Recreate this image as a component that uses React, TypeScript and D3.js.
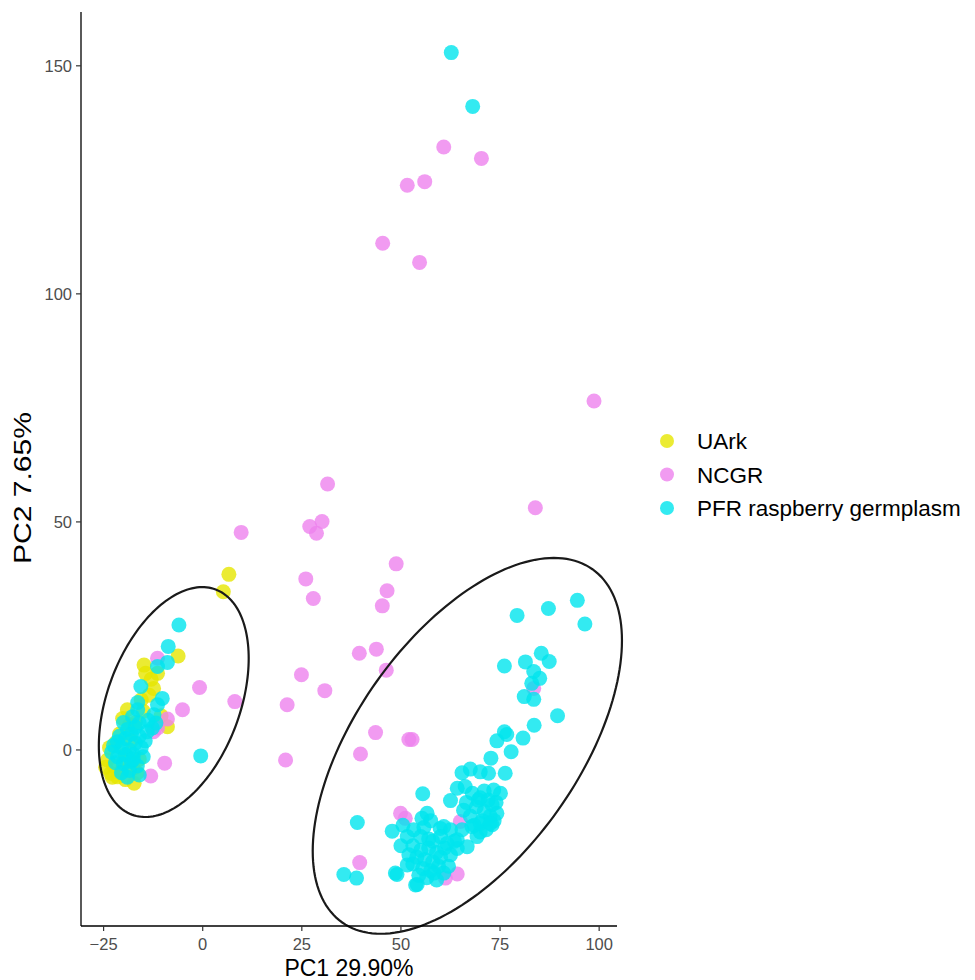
import React from "react";
import * as d3 from "d3";

// groups / legend
const groups = ["UArk", "NCGR", "PFR raspberry germplasm"];
const groupColors = ["#e6e600", "#ee82ee", "#00e5ee"];

const xTicks = [-25, 0, 25, 50, 75, 100];
const yTicks = [0, 50, 100, 150];

// PC1, PC2 scores
const uark = [
  [6.6, 38.5], [5.2, 34.7], [-6.2, 20.6], [-14.8, 18.6], [-14.4, 16.8], [-11.4, 16.8],
  [-12.4, 13.5], [-13.0, 15.5], [-19.0, 8.8], [-20.2, 6.9], [-8.9, 5.1], [-24.0, -2.2],
  [-23.2, -5.1], [-21.5, -5.9], [-17.3, -7.3], [-23.5, 0.5], [-22.5, -3.5], [-20.5, -4.5],
  [-19.5, -6.5], [-16.5, -5.0], [-18.0, 2.0], [-21.0, 3.5], [-17.0, 6.0], [-15.5, 11.0],
  [-13.5, 12.0], [-19.5, -1.0], [-22.0, 1.5], [-18.5, 5.5], [-10.5, 7.5], [-16.0, -2.0],
  [-24.5, -3.8], [-22.8, -6.0], [-15.0, 8.5], [-20.0, -2.5], [-17.5, -4.0],
];

const ncgr = [
  [60.8, 132.2], [70.3, 129.7], [56.0, 124.6], [51.6, 123.8], [45.4, 111.1], [54.7, 106.9],
  [98.7, 76.5], [31.5, 58.3], [83.9, 53.1], [9.7, 47.7], [27.0, 49.0], [30.1, 50.1],
  [28.7, 47.5], [48.8, 40.8], [26.0, 37.5], [27.9, 33.2], [46.5, 34.9], [45.3, 31.6],
  [39.5, 21.2], [43.8, 22.1], [46.3, 17.5], [24.9, 16.5], [30.8, 13.0], [21.3, 9.9],
  [-0.8, 13.7], [8.1, 10.6], [83.5, 13.5], [43.6, 3.8], [52.0, 2.3], [52.8, 2.3],
  [39.8, -0.9], [49.9, -13.9], [51.1, -15.0], [39.6, -24.7], [61.2, -28.1], [64.2, -27.2],
  [65.0, -15.7], [-11.4, 20.1], [-8.9, 6.8], [-12.4, 4.0], [-11.4, 4.8], [-5.1, 8.8],
  [-9.6, -2.9], [-13.1, -5.7], [20.9, -2.2],
];

const pfr = [
  [62.7, 152.9], [68.1, 141.1],
  // left cluster
  [-6.0, 27.4], [-8.7, 22.7], [-8.9, 19.2], [-11.4, 18.3], [-15.6, 13.9], [-10.2, 11.3],
  [-11.4, 9.9], [-16.4, 10.4], [-17.7, 7.3], [-16.4, 8.8], [-16.0, 5.9], [-12.3, 7.7],
  [-11.8, 5.9], [-12.7, 4.8], [-0.5, -1.3],
  [-22.5, 1.0], [-21.5, -1.5], [-20.5, 0.5], [-19.5, 2.5], [-18.5, 0.0], [-20.0, -3.0],
  [-18.0, -2.5], [-17.0, 1.5], [-16.0, 3.0], [-15.5, 0.5], [-19.0, 4.5], [-21.0, 3.0],
  [-22.0, -2.8], [-20.5, -5.0], [-18.5, -4.5], [-17.5, -1.0], [-16.5, -3.5], [-19.5, -1.0],
  [-21.5, 1.8], [-18.0, 3.5], [-17.0, 5.0], [-15.0, -1.5], [-14.5, 2.0], [-20.0, 6.0],
  [-23.0, -0.5], [-16.0, -5.5], [-19.0, -6.0], [-17.5, -2.0], [-13.8, 6.5], [-14.0, 4.0],
  // right cluster
  [79.3, 29.5], [87.2, 31.0], [94.5, 32.8], [96.4, 27.6], [76.1, 18.4], [81.4, 19.3],
  [85.4, 21.2], [87.4, 19.4], [83.5, 17.2], [85.0, 15.7], [83.0, 14.6], [81.1, 11.7],
  [83.5, 11.1], [89.5, 7.5], [83.6, 5.4], [80.8, 2.6], [76.1, 4.0], [76.7, 3.4],
  [74.2, 2.0], [77.8, -0.4], [72.7, -1.8], [76.3, -5.1], [65.4, -5.0], [67.5, -4.2],
  [70.0, -4.8], [72.1, -5.1], [64.2, -8.4], [66.2, -8.0], [55.5, -9.6], [62.5, -11.1],
  [65.8, -13.2], [73.4, -8.8], [75.1, -9.5], [39.0, -15.9], [47.8, -17.8], [56.6, -13.9],
  [55.3, -15.0], [53.2, -17.5], [51.6, -19.0], [60.8, -16.8], [62.5, -17.5], [35.6, -27.3],
  [38.8, -28.1], [49.0, -27.3], [54.1, -29.5], [51.6, -25.2], [60.8, -27.0], [58.3, -27.0],
  [66.7, -21.2], [69.2, -19.0], [64.2, -21.6], [73.0, -16.4], [74.2, -13.9],
  [68.0, -9.5], [70.0, -10.5], [72.0, -11.0], [69.0, -12.5], [71.0, -13.5], [73.0, -12.0],
  [67.5, -14.5], [70.5, -15.5], [72.5, -14.5], [68.5, -16.5], [71.5, -17.5], [74.0, -11.5],
  [69.5, -11.0], [71.0, -9.0], [66.5, -11.5], [73.5, -15.5], [70.0, -18.0],
  [59.9, -17.2], [65.4, -17.5], [67.9, -16.8], [70.0, -16.1], [72.5, -16.1], [64.2, -19.7],
  [61.6, -20.5],
  [53.0, -21.0], [55.0, -22.0], [57.0, -21.5], [59.0, -22.5], [54.0, -23.5], [56.0, -24.0],
  [58.0, -24.5], [60.0, -23.5], [55.5, -26.0], [57.5, -26.5], [59.5, -25.5], [53.0, -25.0],
  [56.5, -28.0], [54.5, -27.5], [61.0, -21.5], [62.5, -23.0], [52.0, -23.0], [57.0, -19.5],
  [55.0, -19.0], [50.0, -21.0], [48.6, -27.0], [53.7, -29.6], [59.0, -28.5], [62.0, -25.5],
  [58.0, -20.0], [63.5, -20.0], [60.0, -19.0], [55.8, -17.0], [57.5, -15.5], [50.5, -16.5],
];

const groupPoints = [uark, ncgr, pfr];

// cluster ellipses (data units): centre, half width, half height, correlation-ish cos
const ellipseCenters = [[-7.3, 10.5], [66.75, 0.9]];
const ellipseHalfW = [18.9, 39.0];
const ellipseHalfH = [25.2, 41.2];
const ellipseCos = [0.38, 0.56];

const W = 975, H = 980;
const left = 81, right = 617, top = 12, bottom = 926;
const font = "'Liberation Sans', Arial, Helvetica, sans-serif";

export default function App() {
  const x = d3.scaleLinear().domain([-30.7, 104.5]).range([left, right]);
  const y = d3.scaleLinear().domain([-38.6, 161.8]).range([bottom, top]);

  const line = d3.line().curve(d3.curveLinearClosed);
  const ellipses = ellipseCenters.map(([cx, cy], i) => {
    const c = ellipseCos[i], s = Math.sqrt(1 - c * c);
    const pts = d3.range(0, 180).map((k) => {
      const t = (k / 180) * 2 * Math.PI;
      const dx = ellipseHalfW[i] * Math.cos(t);
      const dy = ellipseHalfH[i] * (Math.cos(t) * c + Math.sin(t) * s);
      return [x(cx + dx), y(cy + dy)];
    });
    return line(pts);
  });

  return (
    <>
      <style>{`body{margin:0}`}</style>
      <svg width={W} height={H} style={{ display: "block", background: "#fff" }} fontFamily={font}>
        {groupPoints.map((pts, gi) => (
          <g key={gi} fill={groupColors[gi]} fillOpacity={0.8}>
            {pts.map((d, i) => (
              <circle key={i} cx={x(d[0])} cy={y(d[1])} r={7.5} />
            ))}
          </g>
        ))}

        {ellipses.map((d, i) => (
          <path key={i} d={d} fill="none" stroke="#1a1a1a" strokeWidth={2.2} />
        ))}

        {/* axes */}
        <line x1={left} x2={right} y1={bottom} y2={bottom} stroke="#000" strokeWidth={1.3} />
        <line x1={left} x2={left} y1={top} y2={bottom} stroke="#000" strokeWidth={1.3} />
        {xTicks.map((t) => (
          <g key={t}>
            <line x1={x(t)} x2={x(t)} y1={bottom} y2={bottom + 5} stroke="#333" strokeWidth={1.2} />
            <text x={x(t)} y={bottom + 24} textAnchor="middle" fontSize={16.5} fill="#4d4d4d">
              {t < 0 ? `\u2212${-t}` : t}
            </text>
          </g>
        ))}
        {yTicks.map((t) => (
          <g key={t}>
            <line x1={left - 5} x2={left} y1={y(t)} y2={y(t)} stroke="#333" strokeWidth={1.2} />
            <text x={left - 9} y={y(t)} dy="0.36em" textAnchor="end" fontSize={16.5} fill="#4d4d4d">
              {t}
            </text>
          </g>
        ))}
        <text x={(left + right) / 2} y={976} textAnchor="middle" fontSize={23} fill="#000">
          PC1 29.90%
        </text>
        <text
          transform={`translate(31,488) rotate(-90)`}
          textAnchor="middle"
          fontSize={23}
          textLength={152}
          lengthAdjust="spacingAndGlyphs"
          fill="#000"
        >
          PC2 7.65%
        </text>

        {/* legend */}
        {groups.map((g, i) => (
          <g key={g} transform={`translate(667,${441 + i * 33.5})`}>
            <circle r={7} fill={groupColors[i]} fillOpacity={0.8} />
            <text x={30} dy="0.36em" fontSize={22.5} fill="#000">
              {g}
            </text>
          </g>
        ))}
      </svg>
    </>
  );
}
